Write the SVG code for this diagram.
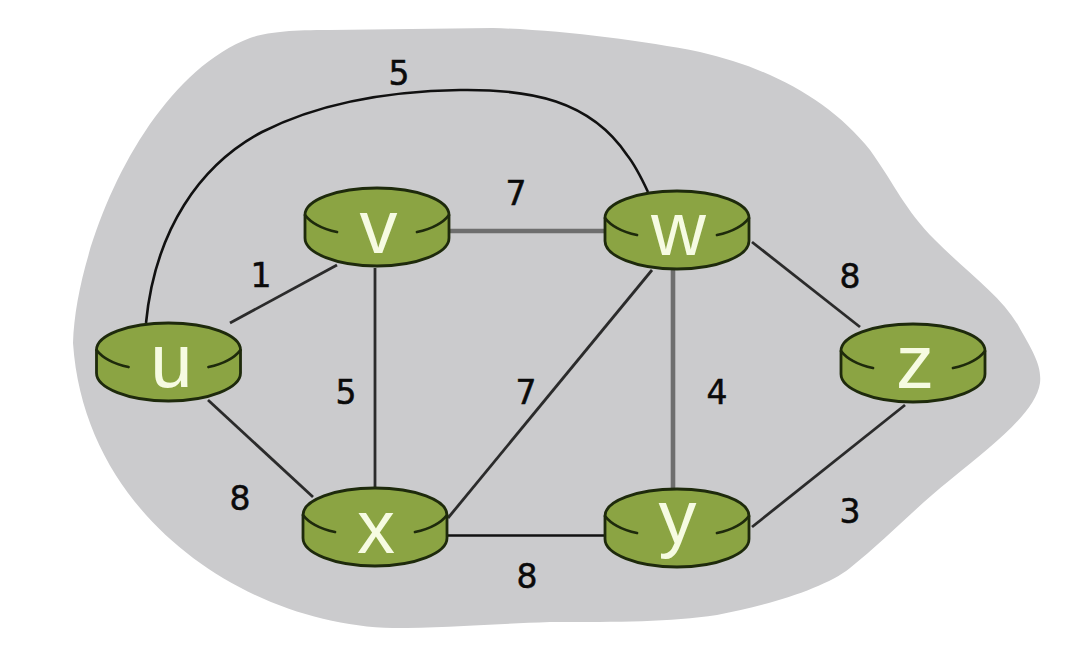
<svg xmlns="http://www.w3.org/2000/svg" width="1077" height="667" viewBox="0 0 1077 667">
<style>
.lnk{fill:none;stroke:#2b2b2b;stroke-width:2.8}
.gr{fill:none;stroke:#6e6e6e;stroke-width:4.6}
.bk{fill:none;stroke:#111;stroke-width:2.6}
.body{fill:#8ba443;stroke:#1e2a0c;stroke-width:2.8}
.edge{fill:none;stroke:#1e2a0c;stroke-width:2.8;stroke-linecap:round}
.nm{font-family:"Liberation Sans",Arial,sans-serif;font-size:76px;fill:#f6fbe2;text-anchor:middle}
.lb{font-family:"DejaVu Sans",Verdana,sans-serif;font-size:33px;fill:#0a0a0a;stroke:#0a0a0a;stroke-width:.5;text-anchor:middle}
</style>
<defs>
<g id="router">
<path class="body" d="M-72 0V23C-72 38-40 51 0 51S72 38 72 23V0C72-15 40-27 0-27S-72-15-72 0Z"/>
<path class="edge" d="M-72 0C-66 8-54 14-40 17M72 0C66 8 54 14 40 17"/>
</g>
</defs>
<path id="cloud" fill="#cbcbcd" d="M73 343C76 245 145 78 250 38C268 32 290 30 330 30L493 28C560 30 640 40 700 52C770 68 830 100 870 150C895 185 905 210 935 240C970 275 1000 295 1018 325C1032 350 1042 365 1040 383C1036 410 1000 440 950 480C915 508 885 540 850 568C825 588 770 605 717 615C670 622 620 622 550 622C490 624 440 628 393 628C250 625 85 520 73 343Z"/>
<g id="connectors">
<path class="bk" d="M146 323C155 230 200 165 262 132C325 100 400 91 460 90C530 89 590 100 627 155C635 165 641 177 648 192"/>
<path class="lnk" d="M230 323L337 265"/>
<path class="lnk" d="M208 400L313 497"/>
<path class="gr" d="M449 231H606"/>
<path class="lnk" d="M375 268V490" stroke-width="3"/>
<path class="lnk" d="M448 518L652 270"/>
<path class="gr" d="M673 270V490"/>
<path class="lnk" d="M752 242L860 327"/>
<path class="lnk" d="M905 405L752 527"/>
<path class="bk" d="M447 535.500H606"/>
</g>
<g id="node-u"><use href="#router" x="168.500" y="350"/><text class="nm" x="171.500" y="387">u</text></g>
<g id="node-v"><use href="#router" x="377" y="215"/><text class="nm" x="378.500" y="253">v</text></g>
<g id="node-w"><use href="#router" x="677" y="218"/><text class="nm" x="678.500" y="255">w</text></g>
<g id="node-x"><use href="#router" x="375" y="515"/><text class="nm" x="376" y="553">x</text></g>
<g id="node-y"><use href="#router" x="677" y="516"/><text class="nm" x="677.500" y="543">y</text></g>
<g id="node-z"><use href="#router" x="913" y="351"/><text class="nm" x="915" y="388">z</text></g>
<g id="labels">
<text class="lb" x="399" y="85">5</text>
<text class="lb" x="516" y="205">7</text>
<text class="lb" x="261" y="287">1</text>
<text class="lb" x="346" y="404">5</text>
<text class="lb" x="526" y="404">7</text>
<text class="lb" x="717" y="404">4</text>
<text class="lb" x="850" y="288">8</text>
<text class="lb" x="240" y="510">8</text>
<text class="lb" x="850" y="523">3</text>
<text class="lb" x="527" y="588">8</text>
</g>
</svg>
